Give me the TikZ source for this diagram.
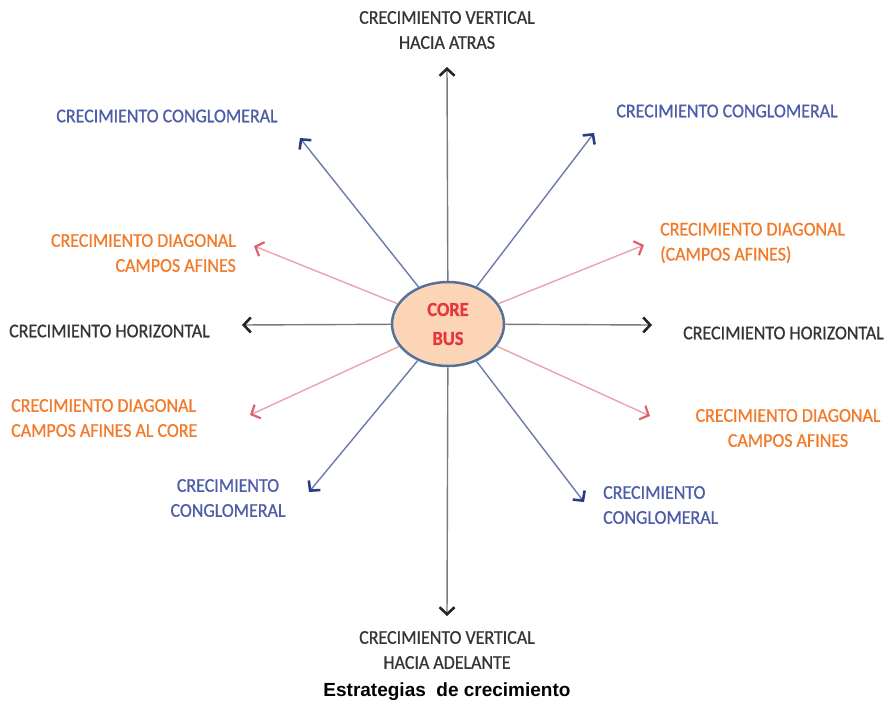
\documentclass[tikz,border=0pt]{standalone}
\usepackage{fontspec}
\setmainfont{Carlito}
\newfontfamily\lblfont{Carlito}[FakeBold=0.8,FakeStretch=0.92]
\newfontfamily\captionfont{Liberation Sans}
\usetikzlibrary{arrows.meta,shapes.geometric}
\definecolor{corefill}{HTML}{FBD5B6}
\definecolor{coreline}{HTML}{56709C}
\definecolor{corered}{HTML}{E5383E}
\definecolor{bluetxt}{HTML}{4D5DA8}
\definecolor{bluearr}{HTML}{6C7AA8}
\definecolor{bluetip}{HTML}{2C3C80}
\definecolor{orangetxt}{HTML}{F27A28}
\definecolor{pinkarr}{HTML}{EBA3AB}
\definecolor{pinktip}{HTML}{E0606E}
\definecolor{graytxt}{HTML}{353535}
\definecolor{grayarr}{HTML}{7A7A7A}

\begin{document}
\begin{tikzpicture}[x=1pt,y=-1pt,
 core/.style={ellipse,draw=coreline,line width=2.5pt,fill=corefill,minimum width=112pt,minimum height=84pt,inner sep=0pt,align=center,text=corered,font=\lblfont\bfseries\fontsize{20}{29}\selectfont},
 lbl/.style={align=center,inner sep=0pt,font=\lblfont\fontsize{19.5}{25}\selectfont},
 blacklbl/.style={lbl,text=graytxt},
 bluelbl/.style={lbl,text=bluetxt},
 orangelbl/.style={lbl,text=orangetxt},
 blackarr/.style={draw=grayarr,line width=1.4pt,-{Straight Barb[length=7pt,width=15pt,line width=2.6pt,color=black!85]}},
 bluearr/.style={draw=bluearr,line width=1.4pt,-{Straight Barb[length=7pt,width=15pt,line width=2.6pt,color=bluetip]}},
 pinkarr/.style={draw=pinkarr,line width=1.4pt,-{Straight Barb[length=7pt,width=15pt,line width=2.2pt,color=pinktip]}}
]
\useasboundingbox (0,0) rectangle (885,709);
\node[core] (core) at (448,324) {CORE\\BUS};

% arrow tips
\coordinate (uptip) at (447,67); \coordinate (downtip) at (447,616);
\coordinate (lefttip) at (242,325); \coordinate (righttip) at (652,325);
\coordinate (cgultip) at (300,138); \coordinate (cgurtip) at (594,133);
\coordinate (cglltip) at (309,492); \coordinate (cglrtip) at (584,502);
\coordinate (dgultip) at (254,246); \coordinate (dgurtip) at (644,245);
\coordinate (dglltip) at (250,415); \coordinate (dglrtip) at (650,416);

% labels
\node[blacklbl] (vtop) at (447,30) {CRECIMIENTO VERTICAL\\HACIA ATRAS};
\node[blacklbl] (vbot) at (447,650) {CRECIMIENTO VERTICAL\\HACIA ADELANTE};
\node[blacklbl,anchor=west] (hleft) at (9,331) {CRECIMIENTO HORIZONTAL};
\node[blacklbl,anchor=west] (hright) at (683,333) {CRECIMIENTO HORIZONTAL};
\node[bluelbl] (cgul) at (167,116) {CRECIMIENTO CONGLOMERAL};
\node[bluelbl] (cgur) at (727,111) {CRECIMIENTO CONGLOMERAL};
\node[bluelbl] (cgll) at (228,498) {CRECIMIENTO\\CONGLOMERAL};
\node[bluelbl,align=left,anchor=west] (cglr) at (603,505) {CRECIMIENTO\\CONGLOMERAL};
\node[orangelbl,align=right,anchor=east] (dgul) at (236,253) {CRECIMIENTO DIAGONAL\\CAMPOS AFINES};
\node[orangelbl,align=left,anchor=west] (dgur) at (660,243) {CRECIMIENTO DIAGONAL\\(CAMPOS AFINES)};
\node[orangelbl,align=left,anchor=west] (dgll) at (11,418) {CRECIMIENTO DIAGONAL\\CAMPOS AFINES AL CORE};
\node[orangelbl] (dglr) at (788,428) {CRECIMIENTO DIAGONAL\\CAMPOS AFINES};
\node[font=\captionfont\bfseries\fontsize{19}{22}\selectfont] (title) at (447,692) {Estrategias\ \ de crecimiento};

\draw[blackarr] (core)--(uptip); \draw[blackarr] (core)--(downtip);
\draw[blackarr] (core)--(lefttip); \draw[blackarr] (core)--(righttip);
\draw[bluearr] (core)--(cgultip); \draw[bluearr] (core)--(cgurtip);
\draw[bluearr] (core)--(cglltip); \draw[bluearr] (core)--(cglrtip);
\draw[pinkarr] (core)--(dgultip); \draw[pinkarr] (core)--(dgurtip);
\draw[pinkarr] (core)--(dglltip); \draw[pinkarr] (core)--(dglrtip);
\end{tikzpicture}
\end{document}
